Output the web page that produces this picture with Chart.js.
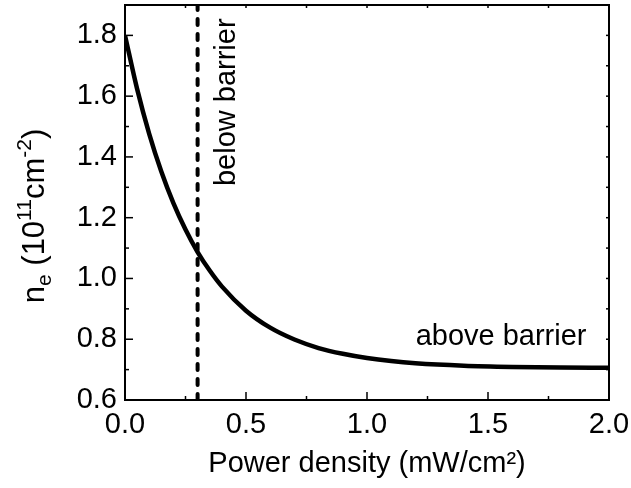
<!DOCTYPE html>
<html>
<head>
<meta charset="utf-8">
<script src="https://cdn.jsdelivr.net/npm/chart.js@4/dist/chart.umd.min.js"></script>
<style>
  html, body { margin: 0; padding: 0; background: #fff; }
  canvas { display: block; }
</style>
</head>
<body>
<canvas id="chart" width="631" height="488"></canvas>
<script>
// Electron density vs. power density
const powerDensity = [0, 0.05, 0.1, 0.15, 0.2, 0.25, 0.3, 0.35, 0.4, 0.5, 0.6, 0.7, 0.8, 0.9, 1.0, 1.1, 1.2, 1.4, 1.6, 1.8, 2.0];
const electronDensity = [1.800, 1.624, 1.476, 1.352, 1.248, 1.161, 1.087, 1.026, 0.974, 0.894, 0.838, 0.799, 0.771, 0.752, 0.738, 0.728, 0.721, 0.713, 0.709, 0.707, 0.706];

// barrier marker
const barrierX = 0.3;

// axis ticks
const xTicks = [0, 0.5, 1.0, 1.5, 2.0];
const xMinorTicks = [0.25, 0.75, 1.25, 1.75];
const yTicks = [0.6, 0.8, 1.0, 1.2, 1.4, 1.6, 1.8];
const yMinorTicks = [0.7, 0.9, 1.1, 1.3, 1.5, 1.7];

const FONT = "'Liberation Sans', Arial, sans-serif";

/**
 * Draws the closed frame, inward tick marks, y title and the two labels
 */
const framePlugin = {
    id: 'frame',
    afterDatasetsDraw(chart) {
        const { ctx, chartArea: a, scales: { x, y } } = chart;
        ctx.save();
        ctx.strokeStyle = '#000';
        ctx.lineWidth = 2;
        ctx.strokeRect(a.left, a.top, a.right - a.left, a.bottom - a.top);

        const tick = (x1, y1, x2, y2) => {
            ctx.beginPath();
            ctx.moveTo(x1, y1);
            ctx.lineTo(x2, y2);
            ctx.stroke();
        };
        ctx.lineWidth = 1.5;
        [...xTicks, ...xMinorTicks].forEach(v => {
            const px = x.getPixelForValue(v);
            const len = xTicks.includes(v) ? 8 : 4;
            tick(px, a.bottom, px, a.bottom - len);
            tick(px, a.top, px, a.top + 3);
        });
        [...yTicks, ...yMinorTicks].forEach(v => {
            const py = y.getPixelForValue(v);
            const len = yTicks.includes(v) ? 8 : 4;
            tick(a.left, py, a.left + len, py);
            tick(a.right, py, a.right - 3, py);
        });

        ctx.fillStyle = '#000';

        // y axis title with sub/superscripts
        const parts = [
            { t: 'n', s: 31, dy: 0 },
            { t: 'e', s: 21, dy: 7 },
            { t: ' (10', s: 31, dy: 0 },
            { t: '11', s: 21, dy: -13 },
            { t: 'cm', s: 31, dy: 0 },
            { t: '-2', s: 21, dy: -13 },
            { t: ')', s: 31, dy: 0 }
        ];
        let total = 0;
        parts.forEach(p => {
            ctx.font = `${p.s}px ${FONT}`;
            p.w = ctx.measureText(p.t).width;
            total += p.w;
        });
        ctx.save();
        ctx.translate(44, 216);
        ctx.rotate(-Math.PI / 2);
        ctx.textAlign = 'left';
        ctx.textBaseline = 'alphabetic';
        let cx = -total / 2;
        parts.forEach(p => {
            ctx.font = `${p.s}px ${FONT}`;
            ctx.fillText(p.t, cx, p.dy);
            cx += p.w;
        });
        ctx.restore();

        // annotations
        ctx.font = `29px ${FONT}`;
        ctx.textAlign = 'center';
        ctx.textBaseline = 'middle';
        ctx.save();
        ctx.translate(x.getPixelForValue(0.42), y.getPixelForValue(1.58));
        ctx.rotate(-Math.PI / 2);
        ctx.fillText('below barrier', 0, 0);
        ctx.restore();
        ctx.fillText('above barrier', x.getPixelForValue(1.554), y.getPixelForValue(0.8075));

        ctx.restore();
    }
};

new Chart(document.getElementById('chart'), {
    type: 'line',
    data: {
        datasets: [
            {
                label: 'n_e',
                data: powerDensity.map((p, i) => ({ x: p, y: electronDensity[i] })),
                borderColor: '#000',
                borderWidth: 4.5,
                pointRadius: 0,
                cubicInterpolationMode: 'monotone',
                fill: false
            },
            {
                label: 'barrier',
                data: [{ x: barrierX, y: 0.6 }, { x: barrierX, y: 1.9 }],
                borderColor: '#000',
                borderWidth: 4,
                borderDash: [6, 9],
                borderCapStyle: 'round',
                pointRadius: 0,
                fill: false
            }
        ]
    },
    options: {
        responsive: false,
        animation: false,
        layout: { padding: { top: 5, right: 22, left: 0, bottom: 0 } },
        plugins: {
            legend: { display: false },
            tooltip: { enabled: false }
        },
        scales: {
            x: {
                type: 'linear',
                min: 0,
                max: 2,
                afterBuildTicks: s => { s.ticks = xTicks.map(v => ({ value: v })); },
                afterFit: s => { s.height = 88; s.paddingLeft = 0; s.paddingRight = 0; },
                ticks: {
                    callback: v => v.toFixed(1),
                    color: '#000',
                    font: { family: FONT, size: 29 },
                    padding: 8,
                    maxRotation: 0
                },
                grid: { display: false, drawTicks: false },
                border: { display: false },
                title: {
                    display: true,
                    text: 'Power density (mW/cm²)',
                    color: '#000',
                    font: { family: FONT, size: 29 },
                    padding: { top: 0, bottom: 7 }
                }
            },
            y: {
                type: 'linear',
                min: 0.6,
                max: 1.9,
                afterBuildTicks: s => { s.ticks = yTicks.map(v => ({ value: v })); },
                afterFit: s => { s.width = 125; s.paddingTop = 0; s.paddingBottom = 0; },
                ticks: {
                    callback: v => v.toFixed(1),
                    color: '#000',
                    font: { family: FONT, size: 29 },
                    padding: 8
                },
                grid: { display: false, drawTicks: false },
                border: { display: false }
            }
        }
    },
    plugins: [framePlugin]
});
</script>
</body>
</html>
